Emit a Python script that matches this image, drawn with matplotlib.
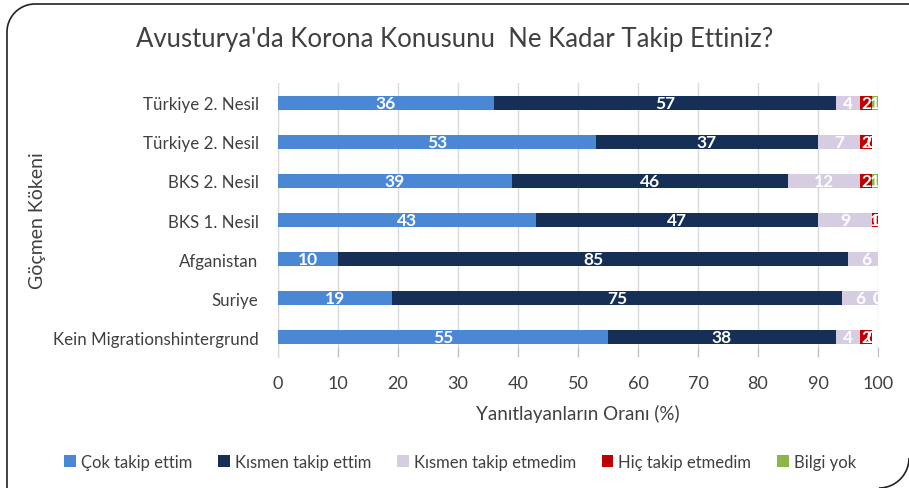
import numpy as np
import matplotlib
matplotlib.use("Agg")
import matplotlib.pyplot as plt
from matplotlib.path import Path
from matplotlib.patches import PathPatch

plt.rcParams["font.family"] = ["Lato", "DejaVu Sans"]

# data, top row first
categories = ["Türkiye 2. Nesil", "Türkiye 2. Nesil", "BKS 2. Nesil", "BKS 1. Nesil",
              "Afganistan", "Suriye", "Kein Migrationshintergrund"]
cok_takip = [36, 53, 39, 43, 10, 19, 55]
kismen_takip = [57, 37, 46, 47, 85, 75, 38]
kismen_etmedim = [4, 7, 12, 9, 6, 6, 4]
hic_etmedim = [2, 2, 2, 1, 0, 0, 2]
bilgi_yok = [1, 0, 1, 0, 0, 0, 0]
series_names = ["Çok takip ettim", "Kısmen takip ettim", "Kısmen takip etmedim",
                "Hiç takip etmedim", "Bilgi yok"]
colors = ["#4a88d6", "#162f57", "#d6cde3", "#c00000", "#8db54a"]

W, H = 909, 489
fig = plt.figure(figsize=(W / 100, H / 100), dpi=100)
ax = fig.add_axes([278 / W, 1 - 358 / H, 600 / W, 274 / H])

y = np.arange(len(categories))
left = np.zeros(len(categories))
for name, vals, col in zip(series_names,
                           [cok_takip, kismen_takip, kismen_etmedim, hic_etmedim, bilgi_yok],
                           colors):
    vals = np.array(vals, dtype=float)
    ax.barh(y, vals, left=left, height=0.36, color=col, label=name, zorder=3)
    # labels sit on top of each other for the thin segments, as in the original
    for yi, l, v in zip(y, left, vals):
        ax.text(l + v / 2, yi, f"{int(v)}", ha="center", va="center", color="white",
                fontsize=12.5, fontweight="bold", zorder=4, clip_on=True)
    left += vals

ax.set_xlim(0, 100)
ax.set_ylim(len(categories) - 0.5, -0.5)
ax.set_xticks(np.arange(0, 101, 10))
ax.set_yticks(y)
ax.set_yticklabels(categories)
ax.grid(axis="x", color="#d9d9d9", lw=1, zorder=0)
for s in ["top", "right", "bottom"]:
    ax.spines[s].set_visible(False)
ax.spines["left"].set_color("#d9d9d9")
ax.tick_params(axis="y", length=0, pad=14, labelsize=12.2, labelcolor="#404040")
ax.tick_params(axis="x", direction="in", length=7, color="#bfbfbf", pad=13,
               labelsize=13, labelcolor="#404040")
ax.set_xlabel("Yanıtlayanların Oranı (%)", fontsize=13.5, color="#404040", labelpad=9)
ax.set_ylabel("Göçmen Kökeni", fontsize=14, color="#404040", labelpad=5)

fig.text(455 / W, 1 - 40 / H, "Avusturya'da Korona Konusunu  Ne Kadar Takip Ettiniz?",
         ha="center", va="center", fontsize=18.5, color="#404040")

fig.legend(loc="center", bbox_to_anchor=(460 / W, 1 - 463 / H), ncol=5, frameon=False,
           fontsize=12, handlelength=0.7, handleheight=0.7, handletextpad=0.3,
           columnspacing=1.55, labelcolor="#404040")

# slide frame with rounded corners
def px(xp, yp):
    return (xp / W, 1 - yp / H)

r = 28
t = np.linspace(np.pi, np.pi / 2, 20)
frame = [px(7, H + 5)] + [px(7 + r + r * np.cos(a), 5 + r - r * np.sin(a)) for a in t] + [px(W + 5, 5)]
fig.add_artist(PathPatch(Path(frame), fill=False, lw=1.2, ec="#222222", transform=fig.transFigure))
t2 = np.linspace(-np.pi / 2, 0, 20)
corner = [px(879 + 30 * np.cos(a), 459 - 30 * np.sin(a)) for a in t2]
fig.add_artist(PathPatch(Path(corner), fill=False, lw=1.2, ec="#222222", transform=fig.transFigure))

fig.savefig("out.png", dpi=100)
